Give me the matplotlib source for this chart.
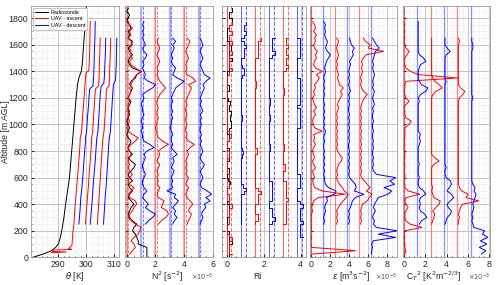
import numpy as np
import matplotlib
import matplotlib.pyplot as plt
from matplotlib.ticker import AutoMinorLocator, MultipleLocator

matplotlib.use('Agg')
plt.rcParams['font.family'] = ['Liberation Sans', 'DejaVu Sans']

STEP = 25  # vertical bin of the profiles [m]

# ---------------- potential temperature [K] (vertices) ----------------
RS_THETA_Z = [0, 25, 50, 75, 100, 150, 200, 250, 300, 400, 500, 600, 700, 800, 900,
              1000, 1100, 1200, 1300, 1350, 1380, 1400, 1450, 1500, 1600, 1700, 1800, 1890]
RS_THETA = [280.7, 284.5, 287.5, 289.0, 290.0, 290.7, 291.2, 291.6, 292.0, 292.6, 293.3,
            294.0, 294.4, 294.8, 295.2, 295.6, 296.0, 296.4, 296.9, 297.4, 297.9, 298.3,
            298.6, 298.8, 299.1, 299.5, 299.9, 300.1]

UAV_THETA_Z = [
    [35, 40, 45, 55, 60, 65, 90, 150, 200, 250, 350, 450, 550, 650, 750, 850, 900, 950,
     1050, 1150, 1250, 1350, 1390, 1405, 1450, 1550, 1650, 1775],
    [250, 350, 450, 550, 650, 750, 850, 900, 950, 1050, 1150, 1250, 1270, 1290, 1350,
     1450, 1550, 1650, 1775],
    [250, 350, 450, 550, 650, 750, 850, 900, 950, 1050, 1150, 1250, 1270, 1290, 1350,
     1450, 1550, 1650],
    [250, 350, 450, 550, 650, 750, 850, 900, 950, 1050, 1150, 1250, 1290, 1310, 1350,
     1450, 1550, 1650],
    [250, 350, 450, 550, 650, 750, 850, 900, 950, 1050, 1150, 1250, 1270, 1290, 1350,
     1450, 1550, 1650],
    [250, 350, 450, 550, 650, 750, 850, 900, 950, 1050, 1150, 1250, 1300, 1330, 1350,
     1450, 1550, 1650],
]
UAV_THETA = [
    [285.3, 290.8, 285.8, 286.3, 292.8, 291.6, 292.9, 293.1, 293.3, 293.6, 293.9, 294.3,
     294.7, 295.1, 295.5, 295.8, 295.9, 296.4, 296.7, 297.1, 297.4, 297.8, 298.0, 299.0,
     299.1, 299.3, 299.4, 299.5],
    [293.4, 293.8, 294.1, 294.6, 295.0, 295.3, 295.7, 295.8, 296.2, 296.5, 296.9, 297.2,
     297.4, 298.5, 298.7, 298.9, 299.0, 299.2, 299.3],
    [293.8, 294.1, 294.5, 294.9, 295.2, 295.6, 295.9, 296.0, 296.4, 296.7, 297.0, 297.3,
     297.5, 298.5, 298.7, 298.8, 299.0, 299.1],
    [293.5, 293.9, 294.3, 294.6, 295.0, 295.4, 295.7, 295.9, 296.3, 296.6, 296.9, 297.2,
     297.5, 298.4, 298.6, 298.8, 299.0, 299.1],
    [294.1, 294.4, 294.7, 295.0, 295.3, 295.6, 295.9, 296.1, 296.5, 296.8, 297.1, 297.3,
     297.5, 298.3, 298.5, 298.6, 298.8, 298.9],
    [294.3, 294.6, 294.9, 295.3, 295.6, 295.9, 296.2, 296.4, 296.8, 297.1, 297.4, 297.7,
     297.9, 298.6, 298.7, 298.9, 299.0, 299.1],
]

# ---------------- N^2 [1e-4 s^-2], 25 m bins ----------------
RS_N2 = [14, 14, 14, 14,
         8, 8, 7, 6, 4, 5, 7, 4, 2, 1, 2, 3, 5, 3, 1, 2, 4, 2, 1, 4, 2, 1, 3, 5,
         6, 3, 1, 4, 2, 1, 2, 3, 1, 0, 1, 2, 1, 0, 1, 2, 1, 1, 2, 3, 1, 2, 3, 4,
         2, 3, 6, 7, 10, 4, 2, 1, 2, 4, 2, 1, 3, 4, 1, 2, 1, 3, 2, 0, 1, 2, 0, 1]
UAV_N2 = [
    [2, 4, 6, 5,
     3, 5, 8, 9, 10, 6, 3, 1, 2, 4, 5, 7, 6, 2, 1, 3, 5, 2, 1, 2, 4, 2, 1, 2,
     1, 2, 3, 2, 1, 3, 6, 8, 4, 1, 0, 1, 2, 1, 1, 2, 1, 1, 2, 1, 2, 3, 2, 3,
     4, 5, 7, 10, 6, 3, 2, 4, 2, 3, 2, 4, 3, 1, 3, 2, 4, 2, 1],
    [3, 5, 8, 10, 6, 3, 5, 3, 1, 2, 4, 2, 1, 1, 2, 3, 2, 1, 1, 2, 3, 2, 4, 9,
     6, 2, 1, 1, 0, 1, 1, 0, 1, 2, 1, 1, 0, 1, 2, 1, 4, 8, 10, 5, 2, 3, 2, 1,
     2, 1, 3, 4, 2, 1, 3, 2, 1, 2, 1, 2, 1, 2],
    [2, 4, 7, 9, 8, 4, 5, 6, 2, 1, 2, 3, 1, 2, 1, 2, 1, 2, 3, 1, 2, 3, 2, 5,
     9, 5, 2, 1, 1, 0, 1, 1, 2, 1, 1, 2, 1, 1, 2, 3, 5, 7, 5, 3, 2, 1, 2, 1,
     2, 3, 2, 1, 2, 3, 2, 1, 2],
    [2, 3, 5, 3, 4, 2, 4, 6, 3, 4, -2, 2, 1, 2, 1, 2, 3, 1, 2, 3, 2, 5, 3, 1,
     2, 1, 1, 2, 1, 0, 1, 1, 2, 1, 2, 1, 1, 2, 1, 2, 3, 4, 7, 10, 5, 2, 3, 4,
     2, 1, 2, 1, 2, 3, 2, 4, 2],
    [2, 3, 4, 5, 3, 4, 6, 4, 2, 1, 2, 3, 1, 2, 3, 1, 2, 1, 2, 1, 2, 3, 2, 4,
     7, 3, 1, 2, 1, 1, 2, 1, 1, 2, 1, 1, 2, 1, 2, 3, 4, 5, 3, 8, 6, 2, 1, 2,
     1, 2, 3, 2, 1, 2, 3, 4, 2],
    [1, 2, 3, 2, 3, 5, 4, 8, 5, 9, 6, 2, 1, 2, 3, 2, 1, 3, 4, 2, 1, 2, 3, 2,
     1, 2, 1, 2, 1, 1, 2, 1, 2, 1, 3, 2, 1, 2, 1, 2, 3, 4, 3, 5, 8, 4, 3, 2,
     1, 2, 3, 2, 1, 2, 3, 2, 1],
]

# ---------------- Ri [0.1], 25 m bins ----------------
RS_RI = [3, 0, 3, 0, 3, 3, 0, 2, 0, 0, 0, 0, 0, 3, 0, 3, 0, 0, 3, 0, 0, 0, 3, 1,
         0, 0, 3, 0, 0, 0, 3, 0, 3, 0, 0, 0, 2, 0, 0, 3, 2, 3, 1, 3, 2, 0, 3, 1,
         0, 0, 0, 2, 0, 0, 0, 0, 0, 3, 0, 3, 3, 0, 3, 2, 3, 0, 0, 0, 0, 0, 3, 3,
         3, 0, 3, 3]
UAV_RI = [
    [3, 0, 3, 0,
     3, 3, 0, 0, 0, 0, 3, 0, 3, 0, 3, 3, 0, 3, 0, 0, 0, 3, 0, 3, 0, 0, 0, 0,
     0, 0, 2, 0, 0, 0, 0, 2, 3, 0, 0, 0, 0, 0, 0, 0, 0, 0, 0, 0, 0, 0, 0, 0,
     0, 0, 0, 3, 3, 0, 3, 0, 3, 3, 0, 3, 3, 0, 3, 3, 0, 3, 3],
    [0, 0, 0, 0, 0, 0, 0, 0, 0, 0, 3, 2, 0, 0, 0, 0, 0, 0, 0, 0, 0, 1, 1, 0,
     0, 0, 0, 0, 0, 0, 0, 0, 1, 0, 0, 0, 0, 0, 0, 0, 0, 0, 0, 0, 0, 1, 2, 1,
     0, 0, 0, 3, 0, 3, 3, 0, 0, 3, 3, 0, 3, 3],
    [0, 0, 3, 0, 0, 0, 0, 3, 0, 3, 3, 0, 0, 0, 0, 0, 0, 0, 0, 0, 0, 0, 2, 0,
     0, 0, 0, 0, 0, 0, 0, 0, 0, 0, 0, 0, 0, 0, 0, 0, 0, 0, 1, 0, 0, 0, 0, 0,
     0, 0, 0, 3, 0, 3, 0, 3, 3],
    [0, 3, 3, 0, 3, 0, 0, 0, 3, 0, 3, 0, 3, 0, 0, 0, 0, 0, 0, 0, 0, 0, 0, 1,
     0, 0, 0, 0, 0, 0, 0, 0, 1, 0, 0, 0, 0, 1, 0, 0, 0, 0, 0, 0, 0, 0, 0, 0,
     0, 0, 0, 3, 3, 0, 3, 0, 3],
    [0, 3, 0, 3, 0, 3, 0, 3, 3, 0, 3, 0, 3, 0, 0, 0, 0, 2, 0, 0, 0, 0, 0, 1,
     0, 0, 0, 0, 0, 0, 0, 0, 0, 0, 0, 0, 0, 0, 0, 0, 1, 0, 0, 0, 0, 0, 0, 3,
     3, 0, 3, 3, 0, 3, 3, 0, 3],
    [3, 0, 3, 0, 3, 3, 0, 3, 0, 3, 3, 0, 0, 0, 0, 0, 3, 0, 3, 0, 0, 0, 0, 0,
     0, 0, 0, 0, 0, 0, 0, 0, 0, 0, 3, 0, 3, 0, 3, 0, 0, 3, 0, 3, 0, 3, 0, 3,
     0, 0, 0, 0, 0, 0, 0, 3, 0, 3, 0, 3, 0],
]

# ---------------- epsilon [1e-4 m^3 s^-2], 25 m bins ----------------
UAV_EPS = [
    [2, 47, 1, 0,
     0, 1, 0, 0, 1, 0, 1, 0, 1, 2, 1, 2, 3, 8, 36, 12, 4, 3, 2, 4, 3, 2, 5, 3,
     2, 4, 3, 2, 3, 5, 3, 4, 3, 12, 4, 3, 2, 3, 5, 3, 6, 4, 3, 2, 4, 3, 5, 4,
     7, 9, 6, 12, 5, 3, 4, 6, 5, 7, 4, 3, 5, 4, 6, 3, 5, 4, 2],
    [1, 2, 1, 2, 3, 2, 3, 5, 4, 12, 14, 6, 3, 2, 2, 1, 2, 1, 2, 1, 2, 1, 2, 1,
     1, 2, 1, 2, 3, 1, 2, 1, 2, 1, 2, 1, 2, 1, 1, 2, 1, 2, 1, 2, 1, 2, 3, 2,
     3, 4, 6, 8, 5, 3, 4, 5, 3, 2, 3, 2, 3, 1],
    [2, 3, 2, 3, 2, 4, 6, 9, 12, 14, 10, 8, 5, 3, 2, 3, 2, 3, 4, 7, 8, 5, 3, 2,
     3, 2, 3, 2, 3, 2, 3, 2, 3, 2, 3, 4, 3, 4, 6, 8, 6, 9, 5, 4, 3, 4, 3, 2,
     3, 2, 3, 4, 3, 2, 3, 4, 2],
    [2, 3, 2, 3, 2, 4, 5, 6, 9, 18, 8, 10, 9, 6, 3, 2, 3, 2, 3, 2, 3, 2, 3, 2,
     2, 3, 2, 3, 2, 3, 2, 3, 2, 3, 2, 2, 3, 2, 3, 2, 4, 3, 2, 3, 2, 3, 2, 3,
     4, 3, 5, 7, 6, 8, 5, 4, 3],
    [2, 3, 2, 3, 2, 3, 4, 9, 11, 14, 8, 12, 9, 6, 3, 2, 3, 2, 3, 2, 3, 2, 3, 2,
     3, 2, 3, 2, 3, 2, 3, 2, 3, 2, 3, 2, 3, 4, 6, 9, 5, 3, 2, 3, 2, 3, 4, 3,
     4, 3, 5, 8, 26, 10, 12, 7, 5],
    [1, 1, 2, 1, 3, 26, 8, 28, 6, 3, 4, 2, 3, 5, 3, 4, 6, 8, 18, 22, 14, 25, 20, 26,
     6, 3, 2, 3, 2, 3, 2, 2, 3, 2, 3, 2, 2, 3, 2, 2, 3, 2, 2, 3, 2, 4, 3, 2,
     3, 4, 2, 3, 2, 3, 4, 3, 2, 3, 2, 3, 4, 5, 9, 6, 4, 2],
]

# ---------------- C_T^2 [1e-4 K^2 m^-2/3], 25 m bins ----------------
UAV_CT2 = [
    [1, 2, 1, 1,
     0, 1, 0, 1, 17, 6, 2, 1, 1, 2, 4, 2, 1, 2, 15, 4, 1, 1, 0, 1, 1, 0, 1, 1,
     0, 1, 1, 1, 0, 1, 0, 1, 1, 1, 1, 5, 7, 2, 1, 1, 0, 2, 5, 2, 1, 0, 1, 1,
     2, 50, 14, 6, 2, 1, 0, 1, 3, 5, 2, 1, 0, 1, 0, 1, 0, 1, 0],
    [2, 4, 9, 7, 3, 2, 3, 2, 3, 8, 6, 2, 1, 1, 2, 1, 1, 1, 2, 1, 1, 1, 1, 1,
     2, 3, 2, 3, 1, 1, 1, 1, 1, 1, 1, 1, 1, 2, 1, 3, 8, 10, 4, 2, 1, 1, 1, 2,
     3, 8, 6, 2, 1, 1, 1, 1, 1, 1, 1, 1, 1, 1],
    [1, 2, 3, 4, 2, 5, 8, 9, 3, 2, 1, 2, 1, 1, 1, 1, 1, 1, 3, 8, 4, 1, 1, 1,
     1, 1, 1, 1, 1, 1, 1, 1, 1, 1, 1, 1, 1, 1, 1, 2, 5, 11, 8, 4, 2, 1, 1, 1,
     1, 1, 1, 1, 1, 1, 1, 1, 1],
    [1, 2, 3, 6, 7, 4, 3, 6, 9, 7, 3, 5, 7, 6, 2, 1, 1, 2, 1, 1, 1, 1, 1, 1,
     1, 1, 1, 1, 1, 1, 1, 1, 1, 1, 1, 1, 1, 1, 1, 1, 1, 1, 1, 2, 1, 1, 1, 1,
     1, 1, 1, 2, 6, 3, 1, 1, 1],
    [1, 1, 2, 1, 2, 3, 5, 20, 8, 10, 4, 2, 1, 1, 1, 1, 1, 1, 1, 1, 1, 1, 1, 1,
     1, 1, 1, 1, 1, 1, 1, 1, 1, 1, 1, 1, 1, 1, 2, 5, 7, 3, 1, 1, 1, 1, 1, 1,
     1, 1, 1, 1, 1, 1, 1, 2, 1],
    [10, 14, 8, 15, 9, 16, 11, 13, 3, 2, 1, 2, 1, 2, 3, 2, 3, 4, 5, 3, 4, 2, 1, 1,
     1, 1, 1, 1, 1, 1, 1, 1, 1, 1, 1, 1, 1, 1, 1, 1, 1, 1, 1, 1, 1, 1, 1, 2,
     1, 1, 1, 1, 1, 1, 1, 1, 1, 1, 1, 1, 1, 1, 2, 2, 1, 1],
]

# lowest bin of each UAV profile [m]
N2_BOTTOM = [25, 250, 250, 250, 250, 250]
RI_BOTTOM = [25, 250, 250, 250, 250, 150]
TURB_BOTTOM = [25, 250, 250, 250, 250, 25]

# layout / style
COLORS = ['red', 'blue', 'red', 'blue', 'red', 'blue']
THETA_SHIFT = [2, 4, 6, 8, 10, 12]
N2_SHIFT = [0, 1, 2, 3, 4, 5]
RI_SHIFT = [0, 0.77, 1.53, 2.29, 3.04, 3.8]
TURB_SHIFT = [0, 1.25, 2.5, 3.75, 5.0, 6.25]
ZTOP = 1895
LW = 0.7
LABEL_Y = -0.078


def heights(bottom, vals):
    return bottom + STEP * np.arange(len(vals))


def style(ax, xlim, xticks, xminor, xlabel, mult=False, label_x=0.5):
    ax.set_xlim(*xlim)
    ax.set_ylim(0, ZTOP)
    ax.set_xticks(xticks)
    ax.xaxis.set_minor_locator(AutoMinorLocator(xminor))
    ax.yaxis.set_major_locator(MultipleLocator(200))
    ax.yaxis.set_minor_locator(MultipleLocator(50))
    ax.grid(which='major', color='#c4c4c4', lw=0.7)
    ax.grid(which='minor', color='#eeeeee', lw=0.5)
    ax.set_axisbelow(True)
    ax.tick_params(which='both', direction='in', labelsize=6.3, pad=2,
                   colors='#262626', length=2)
    ax.tick_params(which='minor', length=1)
    for s in ax.spines.values():
        s.set_color('#9a9a9a')
        s.set_linewidth(0.6)
    ax.set_xlabel(xlabel, fontsize=6.2, color='#262626')
    ax.xaxis.set_label_coords(label_x, LABEL_Y)
    ax.xaxis.label.set_va('center')
    if mult:
        ax.text(1.0, LABEL_Y, r'$\times10^{-3}$', transform=ax.transAxes,
                ha='right', va='center', fontsize=4.8, color='#505050')


fig = plt.figure(figsize=(5, 2.85), dpi=100)
ax_t = fig.add_axes([0.062, 0.097, 0.176, 0.8835])
ax_n = fig.add_axes([0.25, 0.097, 0.176, 0.8835])
ax_r = fig.add_axes([0.4434, 0.097, 0.1676, 0.8835])
ax_e = fig.add_axes([0.62, 0.097, 0.174, 0.8835])
ax_c = fig.add_axes([0.805, 0.097, 0.175, 0.8835])

# theta
ax_t.plot(RS_THETA, RS_THETA_Z, color='black', lw=LW, label='Radiosonde')
for i in range(6):
    lab = None
    if i == 0:
        lab = 'UAV - ascent'
    elif i == 1:
        lab = 'UAV - descent'
    ax_t.plot(np.array(UAV_THETA[i]) + THETA_SHIFT[i], UAV_THETA_Z[i],
              color=COLORS[i], lw=LW, label=lab)
style(ax_t, (280.1, 311.9), [290, 300, 310], 5, r'$\theta$ [K]')
ax_t.set_ylabel('Altitude [m AGL]', fontsize=6.2, color='#262626', va='center')
ax_t.yaxis.set_label_coords(-0.29, 0.5)
leg = ax_t.legend(loc='upper left', fontsize=3.9, handlelength=2.4, borderpad=0.35,
                  labelspacing=0.3, handletextpad=0.5, fancybox=False, framealpha=1,
                  edgecolor='#aaaaaa', borderaxespad=0.4)
leg.get_frame().set_linewidth(0.5)

# N^2
for i in range(6):
    ax_n.axvline(N2_SHIFT[i], color=COLORS[i], alpha=0.3, lw=1.6)
    ax_n.axvline(N2_SHIFT[i] + 0.1, color=COLORS[i], alpha=0.6, lw=0.6, ls='--')
ax_n.plot(np.array(RS_N2) / 10, heights(0, RS_N2), color='black', lw=LW)
for i in range(6):
    ax_n.plot(np.array(UAV_N2[i]) / 10 + N2_SHIFT[i], heights(N2_BOTTOM[i], UAV_N2[i]),
              color=COLORS[i], lw=LW)
style(ax_n, (-0.12, 6.0), [0, 2, 4, 6], 4, r'N$^2$ [s$^{-2}$]', mult=True, label_x=0.48)
ax_n.tick_params(labelleft=False)

# Ri
for i in range(6):
    ax_r.axvline(RI_SHIFT[i], color=COLORS[i], alpha=0.6, lw=0.7)
    ax_r.axvline(RI_SHIFT[i] + 0.25, color=COLORS[i], alpha=0.6, lw=0.7, ls='--')
ax_r.plot(np.array(RS_RI) / 10, heights(0, RS_RI), color='black', lw=LW,
          drawstyle='steps-mid')
for i in range(6):
    ax_r.plot(np.array(UAV_RI[i]) / 10 + RI_SHIFT[i], heights(RI_BOTTOM[i], UAV_RI[i]),
              color=COLORS[i], lw=LW, drawstyle='steps-mid')
style(ax_r, (-0.27, 4.26), [0, 2, 4], 4, 'Ri', label_x=0.43)
ax_r.tick_params(labelleft=False)

# epsilon
for i in range(6):
    ax_e.axvline(TURB_SHIFT[i], color=COLORS[i], alpha=0.45, lw=0.9)
    ax_e.plot(np.array(UAV_EPS[i]) / 10 + TURB_SHIFT[i],
              heights(TURB_BOTTOM[i], UAV_EPS[i]), color=COLORS[i], lw=LW)
style(ax_e, (-0.07, 9.0), [0, 2, 4, 6, 8], 4, r'$\epsilon$ [m$^3$s$^{-2}$]',
      mult=True, label_x=0.47)
ax_e.tick_params(labelleft=False)

# C_T^2
for i in range(6):
    ax_c.axvline(TURB_SHIFT[i], color=COLORS[i], alpha=0.45, lw=0.9)
    ax_c.plot(np.array(UAV_CT2[i]) / 10 + TURB_SHIFT[i],
              heights(TURB_BOTTOM[i], UAV_CT2[i]), color=COLORS[i], lw=LW)
style(ax_c, (-0.12, 8.05), [0, 2, 4, 6, 8], 4,
      r'C$_T$$^2$ [K$^2$m$^{-2/3}$]', mult=True, label_x=0.36)
ax_c.tick_params(labelleft=False)

fig.savefig('out.png', dpi=100)
